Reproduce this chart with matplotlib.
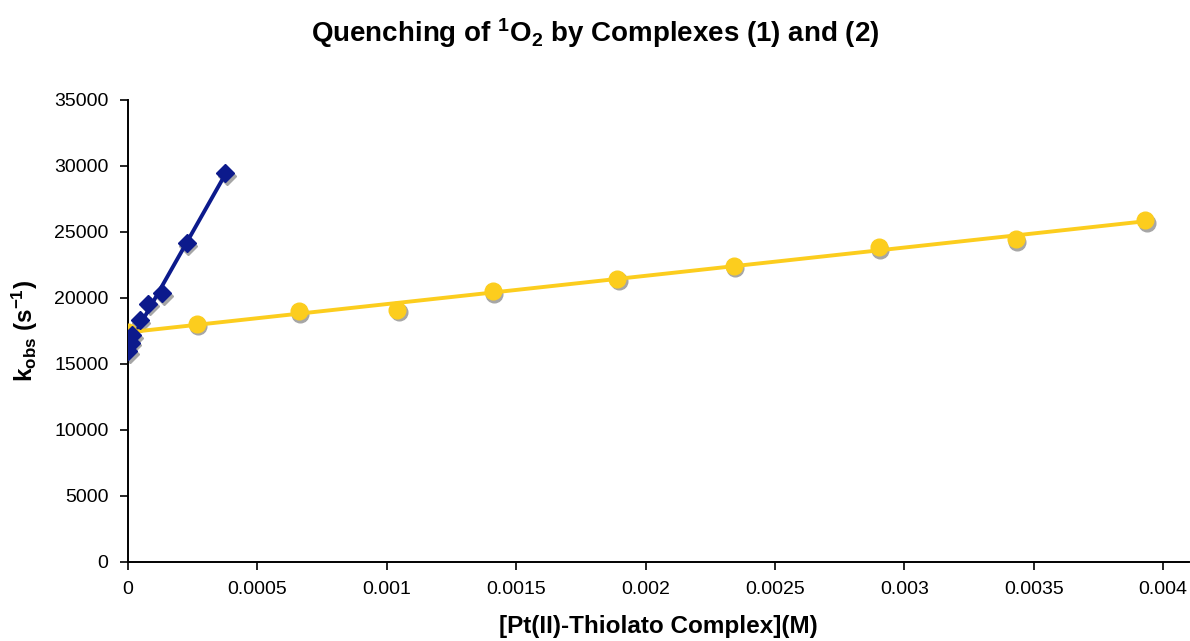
import numpy as np
import matplotlib
matplotlib.use("Agg")
import matplotlib.pyplot as plt
from matplotlib.transforms import offset_copy

plt.rcParams['font.family'] = ['Liberation Sans', 'DejaVu Sans']
plt.rcParams['mathtext.fontset'] = 'custom'
plt.rcParams['mathtext.rm'] = 'Liberation Sans:bold'
plt.rcParams['mathtext.bf'] = 'Liberation Sans:bold'
plt.rcParams['mathtext.default'] = 'rm'

# --- data ---
# complex (1)
conc_1 = [0.0000012, 0.0000105, 0.0000167, 0.0000453, 0.0000786, 0.000133, 0.000226, 0.000376]
kobs_1 = [15950, 16600, 17150, 18300, 19550, 20350, 24150, 29450]
# complex (2)
conc_2 = [0.0, 0.000265, 0.00066, 0.00104, 0.00141, 0.00189, 0.00234, 0.00290, 0.00343, 0.00393]
kobs_2 = [17400, 18050, 19000, 19100, 20500, 21450, 22450, 23850, 24450, 25900]

x_ticks = [0, 0.0005, 0.001, 0.0015, 0.002, 0.0025, 0.003, 0.0035, 0.004]
x_tick_labels = ['0', '0.0005', '0.001', '0.0015', '0.002', '0.0025', '0.003', '0.0035', '0.004']
y_ticks = [0, 5000, 10000, 15000, 20000, 25000, 30000, 35000]

blue = '#0C1A8C'
yellow = '#FCCD1E'
shadow = '#A6A6A6'

fig = plt.figure(figsize=(11.9, 6.41), dpi=100)
ax = fig.add_axes([0.1076, 0.1237, 0.8916, 0.7203])

# linear trend lines
for xs, ys, col in [(conc_1, kobs_1, blue), (conc_2, kobs_2, yellow)]:
    xs = np.array(xs)
    m, b = np.polyfit(xs, ys, 1)
    xl = np.array([0, xs.max()])
    ax.plot(xl, m * xl + b, color=col, lw=2.8, zorder=2)

# marker shadows
sh = offset_copy(ax.transData, fig=fig, x=1.5, y=-2.5, units='dots')
ax.plot(conc_1, kobs_1, ls='none', marker='D', ms=9, color=shadow, mec=shadow, transform=sh, zorder=1)
ax.plot(conc_2, kobs_2, ls='none', marker='o', ms=12, color=shadow, mec=shadow, transform=sh, zorder=1)

ax.plot(conc_1, kobs_1, ls='none', marker='D', ms=9, color=blue, mec=blue, zorder=4)
ax.plot(conc_2, kobs_2, ls='none', marker='o', ms=12, color=yellow, mec=yellow, zorder=3)

ax.set_xlim(0, 0.0041)
ax.set_ylim(0, 35000)
ax.set_xticks(x_ticks)
ax.set_xticklabels(x_tick_labels)
ax.set_yticks(y_ticks)
ax.tick_params(direction='out', length=6, width=1.2, labelsize=14, pad=8)
for s in ['top', 'right']:
    ax.spines[s].set_visible(False)
for s in ['left', 'bottom']:
    ax.spines[s].set_linewidth(1.4)

ax.set_xlabel('[Pt(II)-Thiolato Complex](M)', fontsize=17.5, fontweight='bold', labelpad=12)
ax.set_ylabel(r'k$_{obs}$ (s$^{-1}$)', fontsize=17.5, fontweight='bold', labelpad=10)
fig.suptitle(r'Quenching of $^{1}$O$_{2}$ by Complexes (1) and (2)',
             fontsize=20, fontweight='bold', y=0.975)

fig.savefig('out.png', dpi=100)
